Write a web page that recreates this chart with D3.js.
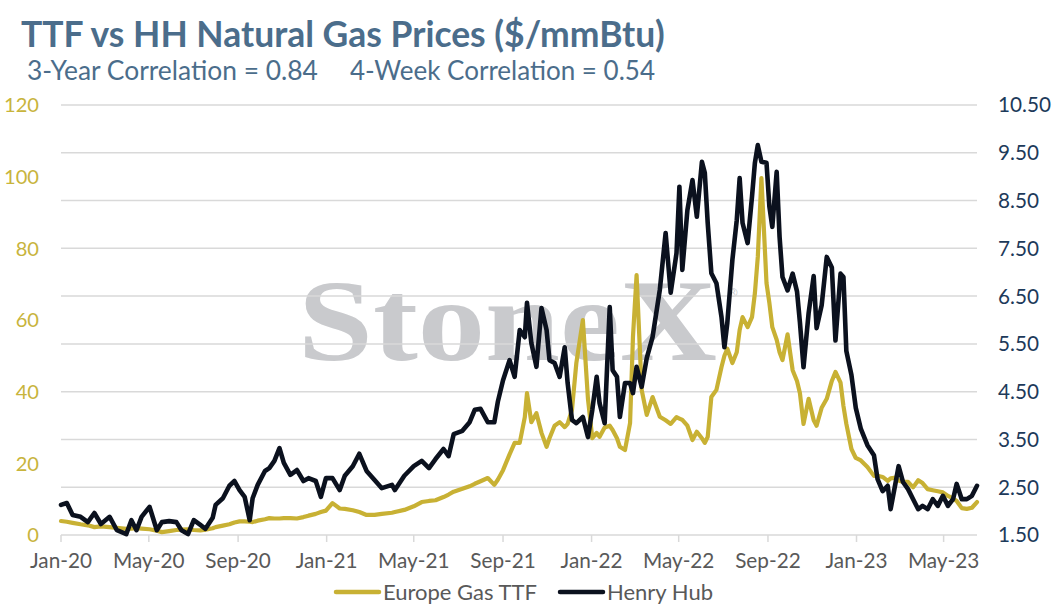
<!DOCTYPE html>
<html>
<head>
<meta charset="utf-8">
<script src="https://cdn.jsdelivr.net/npm/d3@7"></script>
<style>
html,body{margin:0;padding:0;background:#fff;}
svg{display:block;}
</style>
</head>
<body>
<svg id="chart" width="1054" height="613"></svg>
<script>
// ---------- DATA ----------
const dates = [
"2020-01-01","2020-01-09","2020-01-17","2020-01-28","2020-02-07","2020-02-16","2020-02-25","2020-03-08","2020-03-18","2020-03-31",
"2020-04-07","2020-04-14","2020-04-21","2020-05-02","2020-05-12","2020-05-19","2020-05-29","2020-06-08","2020-06-15","2020-06-24",
"2020-07-02","2020-07-11","2020-07-18","2020-07-28","2020-08-01","2020-08-11","2020-08-20","2020-08-27","2020-09-03","2020-09-10",
"2020-09-17","2020-09-21","2020-09-28","2020-10-08","2020-10-14","2020-10-21","2020-10-28","2020-11-03","2020-11-12","2020-11-21",
"2020-11-30","2020-12-07","2020-12-17","2020-12-24","2020-12-31",
"2021-01-09","2021-01-19","2021-01-26","2021-02-06","2021-02-15","2021-02-25","2021-03-08","2021-03-18","2021-04-01","2021-04-05",
"2021-04-18","2021-05-01","2021-05-12","2021-05-22","2021-05-31","2021-06-11","2021-06-18","2021-06-25","2021-07-07","2021-07-17",
"2021-07-24","2021-08-01","2021-08-11","2021-08-20","2021-08-25","2021-09-01","2021-09-10","2021-09-17","2021-09-24","2021-10-01",
"2021-10-04","2021-10-10","2021-10-17","2021-10-24","2021-10-31","2021-11-04","2021-11-11","2021-11-18","2021-11-25","2021-11-29",
"2021-12-05","2021-12-11","2021-12-20","2021-12-27",
"2022-01-02","2022-01-08","2022-01-12","2022-01-19","2022-01-26","2022-01-30","2022-02-05","2022-02-09","2022-02-16","2022-02-23",
"2022-02-27","2022-03-04","2022-03-11","2022-03-18","2022-03-26","2022-04-05","2022-04-13","2022-04-20","2022-04-28","2022-05-02",
"2022-05-06","2022-05-13","2022-05-20","2022-05-26","2022-06-02","2022-06-06","2022-06-10","2022-06-15","2022-06-22","2022-06-29",
"2022-07-03","2022-07-07","2022-07-14","2022-07-20","2022-07-24","2022-07-28","2022-08-04","2022-08-10","2022-08-14","2022-08-18",
"2022-08-23","2022-08-30","2022-09-03","2022-09-07","2022-09-13","2022-09-17","2022-09-21","2022-09-28","2022-10-05","2022-10-11",
"2022-10-15","2022-10-20","2022-10-27","2022-11-03","2022-11-07","2022-11-14","2022-11-21","2022-11-28","2022-12-03","2022-12-10",
"2022-12-14","2022-12-18","2022-12-25","2022-12-31",
"2023-01-07","2023-01-16","2023-01-25","2023-01-30","2023-02-06","2023-02-13","2023-02-17","2023-02-24","2023-02-28","2023-03-06",
"2023-03-13","2023-03-20","2023-03-27","2023-04-02","2023-04-09","2023-04-16","2023-04-23","2023-04-30","2023-05-07","2023-05-14",
"2023-05-19","2023-05-26","2023-06-02","2023-06-09","2023-06-16"
];

// Europe Gas TTF ($/mmBtu, left axis)
const ttf = [
3.9,3.7,3.4,3.0,2.7,2.2,2.4,2.2,2.0,1.7, 1.8,1.9,1.8,1.6,1.2,0.8,1.1,1.4,1.5,1.6,
1.4,1.3,1.5,1.9,2.2,2.6,3.0,3.5,3.8,3.8, 3.7,3.6,4.0,4.4,4.7,4.6,4.6,4.7,4.7,4.6,
5.0,5.4,5.9,6.4,6.8,
8.9,7.4,7.3,6.9,6.4,5.6,5.6,5.9,6.2,6.4, 7.0,8.0,9.2,9.5,9.7,10.6,11.3,12.1,12.9,13.6,
14.3,15.0,15.9,14.0,15.5,18.1,22.5,25.7,25.7,32.9, 39.6,31.5,34.0,28.5,24.6,27.0,30.5,31.5,30.1,31.0,
35.0,48.0,60.0,38.0,
27.0,28.5,27.4,30.0,30.5,29.3,27.0,24.6,23.7,31.2, 55.2,72.5,40.5,33.5,38.5,33.0,32.0,31.0,32.9,32.5,
32.1,30.5,26.5,28.8,27.0,25.7,27.4,38.5,40.5,46.9, 50.0,52.0,48.0,51.0,57.2,60.8,58.0,60.8,67.5,77.6,
99.6,70.3,64.7,58.0,54.5,51.0,48.8,56.0,46.0,43.0, 39.6,31.0,38.0,32.0,30.5,35.5,38.0,43.0,45.5,42.5,
36.0,31.0,24.0,21.5,
20.8,19.0,16.5,16.5,16.2,15.1,15.8,16.0,15.2,14.8, 14.8,13.3,15.3,14.5,12.8,12.5,12.2,11.9,10.9,10.2,
9.5,7.5,7.3,7.6,9.2
];

// Henry Hub ($/mmBtu, right axis)
const hh = [
2.13,2.17,1.92,1.88,1.77,1.96,1.73,1.88,1.60,1.52, 1.81,1.60,1.88,2.09,1.60,1.77,1.79,1.77,1.60,1.52,
1.81,1.71,1.63,1.86,2.13,2.27,2.53,2.63,2.44,2.30, 1.81,2.27,2.55,2.84,2.90,3.05,3.32,3.01,2.76,2.86,
2.63,2.69,2.63,2.30,2.69,
2.69,2.44,2.74,2.94,3.20,2.84,2.65,2.48,2.55,2.44, 2.74,2.94,3.05,2.90,3.09,3.30,3.15,3.61,3.68,3.86,
4.12,4.14,3.86,3.86,4.30,4.74,5.16,4.81,5.79,5.64, 6.36,5.52,5.02,6.25,5.79,5.16,5.10,4.81,5.43,4.68,
3.91,3.84,3.97,3.55,
4.12,4.81,4.26,3.84,6.27,4.95,4.81,3.97,4.68,4.68, 4.47,5.02,4.60,5.20,5.64,6.63,7.82,6.57,7.40,8.79,
7.05,8.30,8.93,8.16,9.31,9.08,8.03,6.98,6.77,6.06, 5.43,5.94,7.26,8.09,8.97,8.03,7.61,8.58,9.29,9.66,
9.31,9.29,8.37,7.95,9.10,7.74,6.90,6.62,6.97,6.60, 5.96,5.01,6.14,6.92,5.83,6.31,7.32,7.10,5.57,6.97,
6.90,5.35,4.85,4.16,
3.72,3.38,3.17,2.67,2.42,2.53,2.04,2.61,2.94,2.61, 2.46,2.25,2.04,2.11,2.04,2.25,2.11,2.32,2.11,2.25,
2.57,2.25,2.25,2.32,2.53
];

const leftTicks = [0,20,40,60,80,100,120];
const rightTicks = [1.5,2.5,3.5,4.5,5.5,6.5,7.5,8.5,9.5,10.5];
const xTickDates = ["2020-01-01","2020-05-01","2020-09-01","2021-01-01","2021-05-01","2021-09-01","2022-01-01","2022-05-01","2022-09-01","2023-01-01","2023-05-01"];
const seriesNames = ["Europe Gas TTF","Henry Hub"];
const titleText = "TTF vs HH Natural Gas Prices ($/mmBtu)";
const subtitle1 = "3-Year Correlation = 0.84";
const subtitle2 = "4-Week Correlation = 0.54";

// ---------- CHART ----------
const parse = d3.timeParse("%Y-%m-%d");
const FONT = "Lato, 'Open Sans', sans-serif";
const C_TTF = "#c8b134", C_HH = "#0b111e", C_TITLE = "#4b6d8b";
const svg = d3.select("#chart");

const m = {left:61, right:977, top:105, bottom:535};
const x = d3.scaleTime().domain([parse("2020-01-01"), parse("2023-06-16")]).range([m.left, m.right]);
const yL = d3.scaleLinear().domain([0,120]).range([m.bottom, m.top]);
const yR = d3.scaleLinear().domain([1.5,10.5]).range([m.bottom, m.top]);

function fit(sel, target){
  const w = sel.node().getComputedTextLength();
  const fs = parseFloat(sel.attr("font-size"));
  sel.attr("font-size", (fs*target/w).toFixed(2));
  return fs*target/w;
}
function sizeFor(str, weight, base, target){
  const t = svg.append("text").attr("font-family",FONT).attr("font-weight",weight).attr("font-size",base).text(str);
  const w = t.node().getComputedTextLength(); t.remove();
  return base*target/w;
}

// watermark
const wm = svg.append("g");
wm.append("text").attr("x",298).attr("y",360)
  .attr("font-family","'Liberation Serif','Times New Roman',serif")
  .attr("font-weight","bold")
  .attr("font-size",117).attr("fill","#c9cacd")
  .attr("textLength",419).attr("lengthAdjust","spacingAndGlyphs")
  .text("StoneX");
wm.append("text").attr("x",727).attr("y",297)
  .attr("font-family","'DejaVu Sans',sans-serif").attr("font-size",12).attr("fill","#c9cacd").text("®");

// gridlines
svg.append("g").selectAll("line").data(rightTicks).join("line")
  .attr("x1",m.left).attr("x2",m.right)
  .attr("y1",d=>yR(d)).attr("y2",d=>yR(d))
  .attr("stroke","#d9d9d9").attr("stroke-width",1.5);

// x ticks
const xt = xTickDates.map(parse);
svg.append("g").selectAll("line").data(xt).join("line")
  .attr("x1",d=>x(d)).attr("x2",d=>x(d))
  .attr("y1",m.bottom).attr("y2",m.bottom+7)
  .attr("stroke","#d9d9d9").attr("stroke-width",1.5);
const xfs = sizeFor("Jan-20","normal",20,62);
svg.append("g").selectAll("text").data(xt).join("text")
  .attr("x",d=>x(d)).attr("y",568)
  .attr("text-anchor","middle").attr("font-family",FONT).attr("font-size",xfs)
  .attr("fill","#595959").text(d3.timeFormat("%b-%y"));

// left axis labels
const lfs = sizeFor("120","normal",20,35);
svg.append("g").selectAll("text").data(leftTicks).join("text")
  .attr("x",39).attr("y",d=>yL(d)).attr("dy","0.36em")
  .attr("text-anchor","end").attr("font-family",FONT).attr("font-size",lfs)
  .attr("fill","#c8b43c").text(d=>d);

// right axis labels
const rfs = sizeFor("10.50","normal",20,53);
svg.append("g").selectAll("text").data(rightTicks).join("text")
  .attr("x",998).attr("y",d=>yR(d)).attr("dy","0.36em")
  .attr("text-anchor","start").attr("font-family",FONT).attr("font-size",rfs)
  .attr("fill","#1d3a5a").text(d=>d.toFixed(2));

// lines
const pts = dates.map((d,i)=>({date:parse(d), ttf:ttf[i], hh:hh[i]}));
const lineTTF = d3.line().x(d=>x(d.date)).y(d=>yL(d.ttf));
const lineHH = d3.line().x(d=>x(d.date)).y(d=>yR(d.hh));
svg.append("path").datum(pts).attr("d",lineTTF).attr("fill","none")
  .attr("stroke",C_TTF).attr("stroke-width",4.2).attr("stroke-linejoin","round").attr("stroke-linecap","round");
svg.append("path").datum(pts).attr("d",lineHH).attr("fill","none")
  .attr("stroke",C_HH).attr("stroke-width",4.6).attr("stroke-linejoin","round").attr("stroke-linecap","round");

// title
const t1 = svg.append("text").attr("x",21).attr("y",47).attr("font-family",FONT).attr("font-weight","bold")
  .attr("font-size",32).attr("fill",C_TITLE).text(titleText);
fit(t1, 644);
const s1 = svg.append("text").attr("x",27).attr("y",80).attr("font-family",FONT)
  .attr("font-size",23).attr("fill",C_TITLE).text(subtitle1);
fit(s1, 291);
const s2 = svg.append("text").attr("x",350).attr("y",80).attr("font-family",FONT)
  .attr("font-size",23).attr("fill",C_TITLE).text(subtitle2);
fit(s2, 305);

// legend
const lg = svg.append("g");
const legfs = sizeFor("Europe Gas TTF","normal",20,154);
const legItems = [
  {name:seriesNames[0], color:C_TTF, x1:336, x2:379, tx:383},
  {name:seriesNames[1], color:C_HH, x1:560, x2:603, tx:607}
];
legItems.forEach(it=>{
  lg.append("line").attr("x1",it.x1).attr("x2",it.x2).attr("y1",592).attr("y2",592)
    .attr("stroke",it.color).attr("stroke-width",4.5).attr("stroke-linecap","round");
  lg.append("text").attr("x",it.tx).attr("y",592).attr("dy","0.36em")
    .attr("font-family",FONT).attr("font-size",legfs).attr("fill","#595959").text(it.name);
});
</script>
</body>
</html>
